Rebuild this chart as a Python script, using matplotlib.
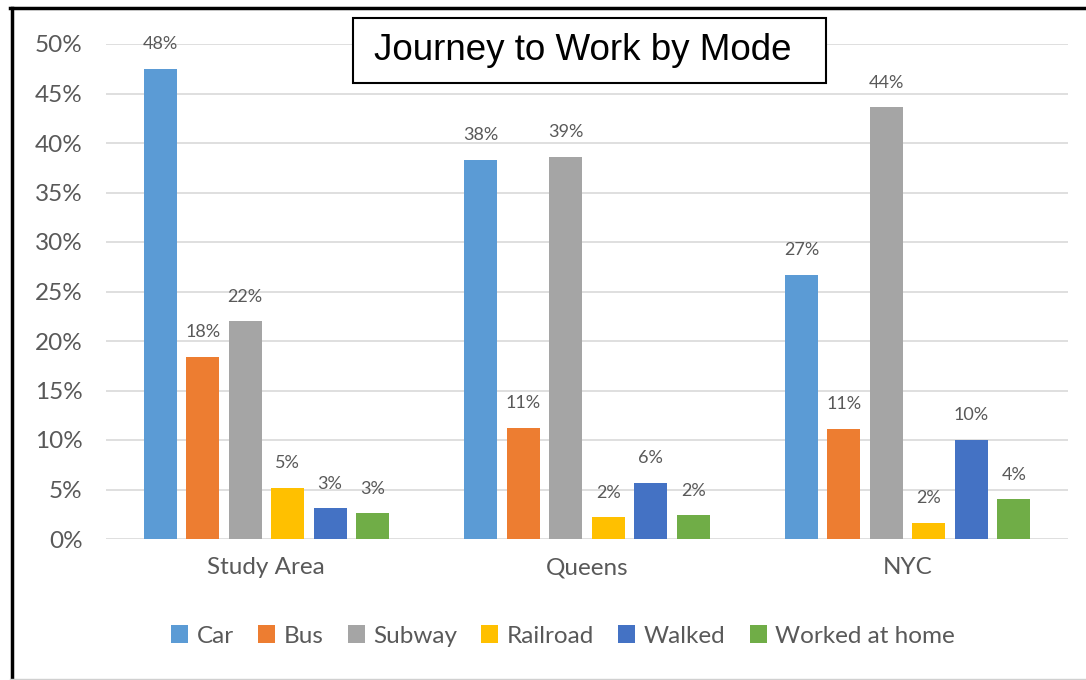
import matplotlib
matplotlib.use("Agg")
import matplotlib.pyplot as plt
import numpy as np
from matplotlib.lines import Line2D
from matplotlib.patches import Rectangle

categories = ["Study Area", "Queens", "NYC"]
modes = ["Car", "Bus", "Subway", "Railroad", "Walked", "Worked at home"]
car = [47.5, 38.3, 26.7]
bus = [18.4, 11.2, 11.1]
subway = [22.0, 38.6, 43.6]
railroad = [5.2, 2.2, 1.6]
walked = [3.1, 5.7, 10.0]
worked_home = [2.6, 2.4, 4.0]
series = [car, bus, subway, railroad, walked, worked_home]
colors = ["#5B9BD5", "#ED7D31", "#A5A5A5", "#FFC000", "#4472C4", "#70AD47"]
yticks = [0, 5, 10, 15, 20, 25, 30, 35, 40, 45, 50]

TXT = "#595959"
FONT = ["Lato", "DejaVu Sans"]
W, H = 1086, 680

fig = plt.figure(figsize=(10.86, 6.8), dpi=100)
ax = fig.add_axes([106/W, 1-539/H, (1068-106)/W, (539-44)/H])

x = np.arange(len(categories))
step = 0.1325
width = 0.103
for i, (vals, col, name) in enumerate(zip(series, colors, modes)):
    pos = x + (i - 2.5) * step
    bars = ax.bar(pos, vals, width=width, color=col, label=name, zorder=3)
    for b, v in zip(bars, vals):
        ax.annotate(f"{v:.0f}%", (b.get_x() + b.get_width()/2, v),
                    xytext=(0, 12), textcoords="offset points",
                    ha="center", va="bottom", fontsize=13, color=TXT,
                    family=FONT)

ax.set_xlim(-0.5, 2.5)
ax.set_ylim(0, 50)
ax.set_yticks(yticks)
ax.set_yticklabels([f"{t}%" for t in yticks], family=FONT, fontsize=17.5, color=TXT)
ax.set_xticks(x)
ax.set_xticklabels(categories, family=FONT, fontsize=17.5, color=TXT)
ax.tick_params(axis="both", length=0)
ax.tick_params(axis="y", pad=17)
ax.tick_params(axis="x", pad=13)
ax.grid(axis="y", color="#D9D9D9", linewidth=1.2, zorder=0)
for s in ax.spines.values():
    s.set_visible(False)

leg = fig.legend(loc="center", bbox_to_anchor=(563/W, 1-636/H), ncol=6,
                 frameon=False, prop={"family": FONT, "size": 17.5},
                 handlelength=0.7, handleheight=0.7, handletextpad=0.35,
                 columnspacing=1.0)
for t in leg.get_texts():
    t.set_color(TXT)

fig.add_artist(Rectangle((353/W, 1-83/H), (826-353)/W, (83-18)/H,
                         transform=fig.transFigure, fc="white", ec="black",
                         lw=1.5, zorder=5))
fig.text(583/W, 1-51/H, "Journey to Work by Mode", ha="center", va="center",
         fontsize=26.5, family=["Liberation Sans", "DejaVu Sans"], color="black",
         zorder=6)

fig.add_artist(Line2D([11.5/W, 11.5/W], [0, 1-8/H], color="black", lw=2.5,
                      transform=fig.transFigure))
fig.add_artist(Line2D([10/W, 1], [1-8/H, 1-8/H], color="black", lw=2.5,
                      transform=fig.transFigure))
fig.add_artist(Line2D([10/W, 1], [1/H, 1/H], color="#D0D0D0", lw=1,
                      transform=fig.transFigure))

fig.savefig("out.png", dpi=100)
